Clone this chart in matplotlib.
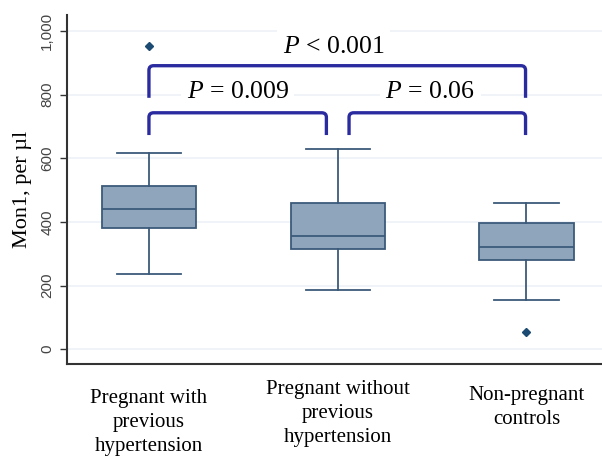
import matplotlib
matplotlib.use('Agg')
import matplotlib.pyplot as plt
from matplotlib.path import Path
from matplotlib.patches import PathPatch

groups = ['Pregnant with\nprevious\nhypertension',
          'Pregnant without\nprevious\nhypertension',
          'Non-pregnant\ncontrols']
whis_low = [236, 185, 154]
q1 = [380, 314, 280]
median = [442, 356, 322]
q3 = [514, 458, 396]
whis_high = [618, 630, 458]
outliers = [[953], [], [55]]

# (left group, right group, height, leg bottom, label)
brackets = [(1.0, 2.995, 891, 790, r'$P$ < 0.001'),
            (1.0, 1.94, 743, 673, r'$P$ = 0.009'),
            (2.06, 2.995, 743, 673, r'$P$ = 0.06')]
label_pos = [(1.98, 951), (1.47, 809), (2.49, 809)]

box_fill = '#8fa5bb'
box_edge = '#3b5a7a'
bracket_col = '#2b2ba0'

plt.rcParams['font.family'] = ['Liberation Serif', 'DejaVu Serif']
plt.rcParams['mathtext.fontset'] = 'custom'
plt.rcParams['mathtext.it'] = 'Liberation Serif:italic'
plt.rcParams['mathtext.rm'] = 'Liberation Serif'

fig = plt.figure(figsize=(6.02, 4.58), dpi=100)
ax = fig.add_axes([0.111, 0.205, 0.889, 0.762])

stats = []
for i in range(3):
    stats.append({'whislo': whis_low[i], 'q1': q1[i], 'med': median[i],
                  'q3': q3[i], 'whishi': whis_high[i], 'fliers': outliers[i]})

ax.bxp(stats, positions=[1, 2, 3], widths=0.5, patch_artist=True,
       boxprops=dict(facecolor=box_fill, edgecolor=box_edge, linewidth=1.3),
       medianprops=dict(color=box_edge, linewidth=1.3),
       whiskerprops=dict(color=box_edge, linewidth=1.3),
       capprops=dict(color=box_edge, linewidth=1.3),
       capwidths=0.34,
       flierprops=dict(marker='D', markersize=4, markerfacecolor='#1b4a72',
                       markeredgecolor='#1b4a72'))

rx, ry = 0.025, 14
for (x0, x1, h, low, lab), (tx, ty) in zip(brackets, label_pos):
    verts = [(x0, low), (x0, h - ry), (x0, h), (x0 + rx, h),
             (x1 - rx, h), (x1, h), (x1, h - ry), (x1, low)]
    codes = [Path.MOVETO, Path.LINETO, Path.CURVE3, Path.CURVE3,
             Path.LINETO, Path.CURVE3, Path.CURVE3, Path.LINETO]
    ax.add_patch(PathPatch(Path(verts, codes), facecolor='none',
                           edgecolor=bracket_col, linewidth=2.4,
                           capstyle='butt', zorder=4))
    ax.text(tx, ty, lab, ha='center', va='center', fontsize=18.5,
            color='black', zorder=3,
            bbox=dict(facecolor='white', edgecolor='none', pad=4))

ax.set_xlim(0.565, 3.40)
ax.set_ylim(-47, 1050)
ax.set_yticks([0, 200, 400, 600, 800, 1000])
ax.set_yticklabels(['0', '200', '400', '600', '800', '1,000'],
                   rotation=90, va='center', family='Liberation Sans',
                   fontsize=11, color='#444444')
ax.set_xticks([1, 2, 3])
ax.set_xticklabels([])
ax.tick_params(axis='x', length=0)
ax.tick_params(axis='y', length=5, width=1, color='#333333', pad=4)

label_y = [-0.072, -0.045, -0.064]
for i, g in enumerate(groups):
    ax.text(i + 1, label_y[i], g, transform=ax.get_xaxis_transform(),
            ha='center', va='top', fontsize=15, linespacing=1.36)

ax.set_ylabel('Mon1, per µl', fontsize=16, labelpad=6)
ax.yaxis.grid(True, color='#edf1f6', linewidth=1.2)
ax.set_axisbelow(True)
for s in ['top', 'right']:
    ax.spines[s].set_visible(False)
for s in ['left', 'bottom']:
    ax.spines[s].set_color('#333333')
    ax.spines[s].set_linewidth(1.5)

fig.savefig('out.png', dpi=100)
